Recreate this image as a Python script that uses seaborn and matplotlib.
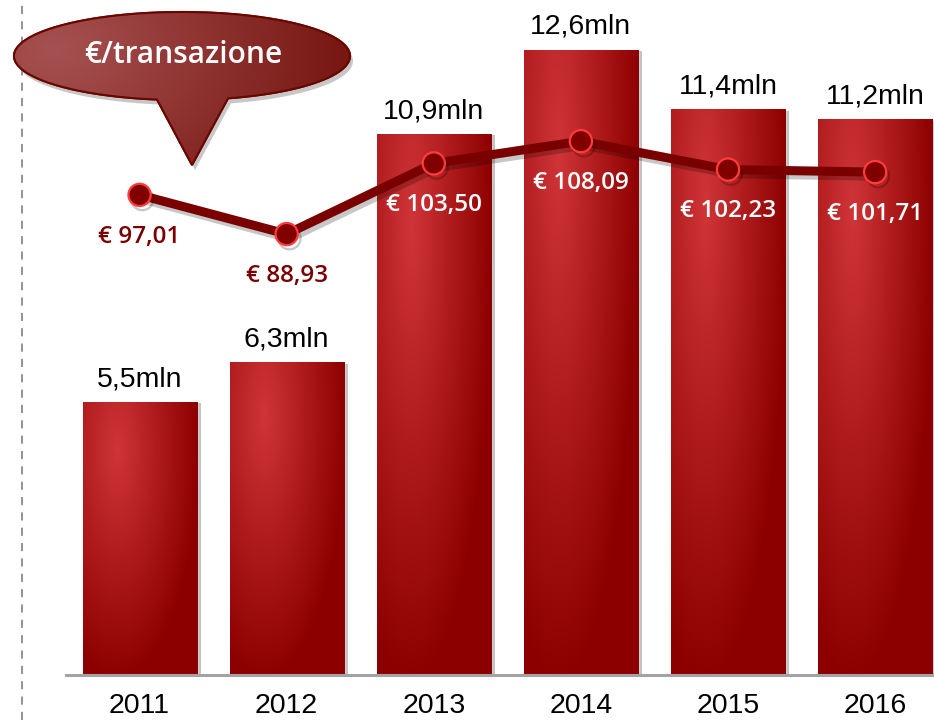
import numpy as np
import matplotlib
matplotlib.use('Agg')
import matplotlib.pyplot as plt
import matplotlib.patheffects as pe
from matplotlib.patches import Polygon
from matplotlib.colors import to_rgb
import seaborn as sns

# dati
years = ['2011', '2012', '2013', '2014', '2015', '2016']
transactions_mln = [5.5, 6.3, 10.9, 12.6, 11.4, 11.2]
eur_per_transaction = [97.01, 88.93, 103.50, 108.09, 102.23, 101.71]
callout_text = '€/transazione'

sns.set_theme(style='white')
plt.rcParams['font.family'] = ['Liberation Sans', 'DejaVu Sans']
OPEN = ['Open Sans', 'DejaVu Sans']


def gradient(light, dark, cu, cv, su, sv, n=200):
    v, u = np.mgrid[0:1:n * 1j, 0:1:n * 1j]
    d = np.clip(np.sqrt(((u - cu) / su) ** 2 + ((v - cv) / sv) ** 2), 0, 1)
    l, k = np.array(to_rgb(light)), np.array(to_rgb(dark))
    return l * (1 - d)[..., None] + k * d[..., None]


fig = plt.figure(figsize=(9.34, 7.2), dpi=100)
ax = fig.add_axes([66 / 934, 45 / 720, 1 - 66 / 934, 675 / 720])

# barre
sns.barplot(x=years, y=transactions_mln, color='#8c0000', width=0.775,
            ax=ax, zorder=2, saturation=1)
ax.set_xlim(-0.5, 5.4)
ax.set_ylim(0, 13.6)

bar_img = gradient('#d03538', '#8c0000', 0.3, 0.17, 0.72, 0.85)
for bar in ax.patches:
    bar.set_path_effects([pe.SimplePatchShadow(offset=(3, -1), shadow_rgbFace='#555555', alpha=0.35),
                          pe.Normal()])
    x0, y0 = bar.get_x(), bar.get_y()
    im = ax.imshow(bar_img, extent=(x0, x0 + bar.get_width(), y0, y0 + bar.get_height()),
                   origin='upper', aspect='auto', zorder=2.5)
    im.set_clip_path(bar)
ax.set_xlim(-0.5, 5.4)
ax.set_ylim(0, 13.6)

ax.bar_label(ax.containers[0],
             labels=[f'{v:.1f}mln'.replace('.', ',') for v in transactions_mln],
             padding=7, fontsize=20.5, color='black')

ax.set_yticks([])
ax.set_xlabel('')
ax.set_ylabel('')
ax.tick_params(axis='x', length=0, pad=13, labelsize=20.5, labelcolor='black')
sns.despine(ax=ax, left=True)
ax.spines['bottom'].set_color('#a3a3a3')
ax.spines['bottom'].set_linewidth(2.2)
ax.spines['bottom'].set_zorder(3)

# linea €/transazione
ax2 = ax.twinx()
sns.lineplot(x=np.arange(len(years)), y=eur_per_transaction, ax=ax2,
             color='#7a0000', lw=6.5, marker='o', markersize=16,
             markerfacecolor='#800000', markeredgecolor='#ff3b3b', markeredgewidth=1.6,
             path_effects=[pe.SimpleLineShadow(offset=(2, -3), shadow_color='black', alpha=0.22),
                           pe.Normal()])
ax2.set_ylim(-2, 137.2)
ax2.set_xlim(-0.5, 5.4)
ax2.set_yticks([])
ax2.set_ylabel('')
for s in ax2.spines.values():
    s.set_visible(False)

for i, p in enumerate(eur_per_transaction):
    inside = transactions_mln[i] > 8
    ax2.annotate(f'€ {p:.2f}'.replace('.', ','), (i, p), xytext=(0, -30),
                 textcoords='offset points', ha='center', va='center',
                 fontsize=17.5, fontweight='semibold', family=OPEN,
                 color='white' if inside else '#7a0000')

# sovrapposizione: linea tratteggiata e fumetto
ov = fig.add_axes([0, 0, 1, 1], zorder=10)
ov.set_xlim(0, 934)
ov.set_ylim(720, 0)
ov.axis('off')
ov.patch.set_visible(False)
ov.axvline(22, color='#8a8a8a', lw=1.3, dashes=(4.5, 4))

cx, cy, a, b = 182, 56, 168, 44
t_l = np.arccos((157 - cx) / a)
t_r = np.arccos((228 - cx) / a) + 2 * np.pi
t = np.linspace(t_l, t_r, 300)
pts = np.column_stack([cx + a * np.cos(t), cy + b * np.sin(t)])
pts = np.vstack([pts, [[192, 165]]])

shadow = Polygon(pts + [3, 5], closed=True, facecolor='#000000', alpha=0.22,
                 edgecolor='none', zorder=1)
ov.add_patch(shadow)
bubble = Polygon(pts, closed=True, facecolor='#7e1a14', edgecolor='#6a0600',
                 lw=1.5, zorder=2)
ov.add_patch(bubble)
bub_img = gradient('#a65252', '#6f0b05', 0.12, 0.25, 1.05, 1.6)
im = ov.imshow(bub_img, extent=(cx - a, cx + a, 166, 12), origin='upper',
               aspect='auto', zorder=2.1)
im.set_clip_path(bubble)
ov.add_patch(Polygon(pts, closed=True, facecolor='none', edgecolor='#6a0600',
                     lw=1.5, zorder=2.2))
ov.set_xlim(0, 934)
ov.set_ylim(720, 0)
ov.text(183, 63, callout_text, color='white', fontsize=21.5, fontweight='semibold',
        family=OPEN, ha='center', va='baseline', zorder=3)

fig.savefig('out.png', dpi=100)
